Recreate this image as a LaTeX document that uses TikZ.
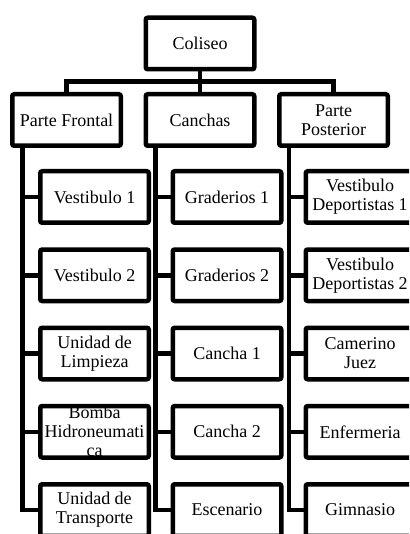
\documentclass[tikz,border=0pt]{standalone}
\usepackage{fontspec}
\setmainfont{Liberation Serif}
\usepackage{tikz}
\usetikzlibrary{positioning}

\begin{document}
\begin{tikzpicture}[x=1pt, y=-1pt,
  box/.style={draw, fill=white, line width=4.5pt, rounded corners=2pt, inner sep=0pt,
    minimum width=108.5pt, minimum height=51.5pt, align=center,
    font=\fontsize{18}{19}\selectfont},
  link/.style={line width=4.5pt, miter limit=10}
]
\useasboundingbox (0,0) rectangle (409,534);
\clip (0,0) rectangle (409,534);

% top and second level
\node[box] (col) at (200,43.5)   {Coliseo};
\node[box] (pf)  at (66.5,120)   {Parte Frontal};
\node[box] (can) at (200,120)    {Canchas};
\node[box] (pp)  at (333.5,120)  {Parte\\Posterior};

% Parte Frontal
\node[box] (pf1) at (94.5,197)    {Vestibulo 1};
\node[box] (pf2) at (94.5,275.25) {Vestibulo 2};
\node[box] (pf3) at (94.5,353.5)  {Unidad de\\Limpieza};
\node[box] (pf4) at (94.5,431.75) {Bomba\\Hidroneumati\\ca};
\node[box] (pf5) at (94.5,510)    {Unidad de\\Transporte};

% Canchas
\node[box] (can1) at (227,197)    {Graderios 1};
\node[box] (can2) at (227,275.25) {Graderios 2};
\node[box] (can3) at (227,353.5)  {Cancha 1};
\node[box] (can4) at (227,431.75) {Cancha 2};
\node[box] (can5) at (227,510)    {Escenario};

% Parte Posterior
\node[box] (pp1) at (360,197)    {Vestibulo\\Deportistas 1};
\node[box] (pp2) at (360,275.25) {Vestibulo\\Deportistas 2};
\node[box] (pp3) at (360,353.5)  {Camerino\\Juez};
\node[box] (pp4) at (360,431.75) {Enfermeria};
\node[box] (pp5) at (360,510)    {Gimnasio};

% bus under Coliseo
\coordinate (bus) at (200,81.5);
\draw[link] (col.south) -- (bus);
\draw[link] (pf.north) |- (bus) -| (pp.north);
\draw[link] (can.north) -- (bus);

% spines down the left of each group
\coordinate (pfspine)  at (22.5,144);
\coordinate (canspine) at (155.5,144);
\coordinate (ppspine)  at (289,144);
\foreach \g in {pf,can,pp}{
  \draw[link] (\g spine) |- (\g5.west);
  \foreach \i in {1,...,4}
    \draw[link] (\g\i.west) -- (\g\i.west -| \g spine);
}
\end{tikzpicture}
\end{document}
